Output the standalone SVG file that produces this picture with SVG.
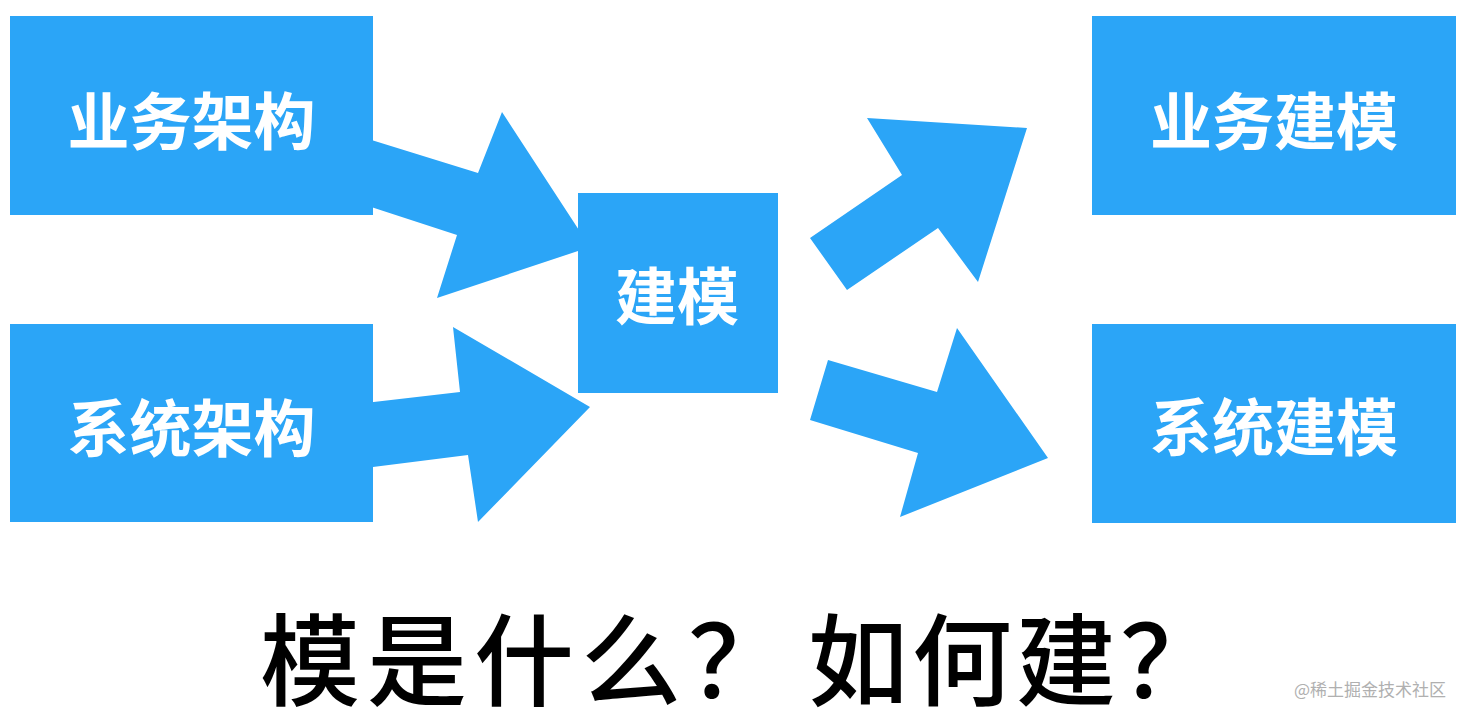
<svg xmlns="http://www.w3.org/2000/svg" width="1474" height="718" viewBox="0 0 1474 718">
<style>
.box{fill:#2BA5F7}
.arrow{fill:#2BA5F7}
.lbl{font-family:"Noto Sans CJK SC","Noto Sans",sans-serif;font-weight:700;font-size:62px;fill:#ffffff;text-anchor:middle;dominant-baseline:central}
.q{font-family:"Noto Sans CJK SC","Noto Sans",sans-serif;font-weight:500;font-size:100px;fill:#000000;dominant-baseline:central}
.wm{font-family:"Noto Sans CJK SC","Noto Sans",sans-serif;font-size:17px;fill:#b0b0b0;dominant-baseline:central}
</style>
<rect width="1474" height="718" fill="#ffffff"/>
<g id="connectors">
<polygon class="arrow" points="365,138 478,173 502,112 590,247 437,298 457,235 365,205"/>
<polygon class="arrow" points="365,403 460,392 453,327 590,407 478,522 468,455 365,468"/>
<polygon class="arrow" points="810,238 902,175 867,118 1027,128 978,282 938,228 847,290"/>
<polygon class="arrow" points="828,360 937,392 957,328 1048,458 900,517 918,453 810,420"/>
</g>
<g id="node-business-arch">
<rect class="box" x="10" y="16" width="363" height="199"/>
<text class="lbl" x="191.5" y="118">业务架构</text>
</g>
<g id="node-system-arch">
<rect class="box" x="10" y="324" width="363" height="198"/>
<text class="lbl" x="191.5" y="425">系统架构</text>
</g>
<g id="node-modeling">
<rect class="box" x="578" y="193" width="200" height="200"/>
<text class="lbl" x="677" y="293">建模</text>
</g>
<g id="node-business-model">
<rect class="box" x="1092" y="16" width="364" height="199"/>
<text class="lbl" x="1274" y="118">业务建模</text>
</g>
<g id="node-system-model">
<rect class="box" x="1092" y="324" width="364" height="199"/>
<text class="lbl" x="1274" y="424">系统建模</text>
</g>
<g id="caption">
<text class="q" x="260" y="654" letter-spacing="7">模是什么？</text>
<text class="q" x="808" y="654" letter-spacing="4">如何建？</text>
</g>
<text class="wm" x="1294" y="688">@稀土掘金技术社区</text>
</svg>
